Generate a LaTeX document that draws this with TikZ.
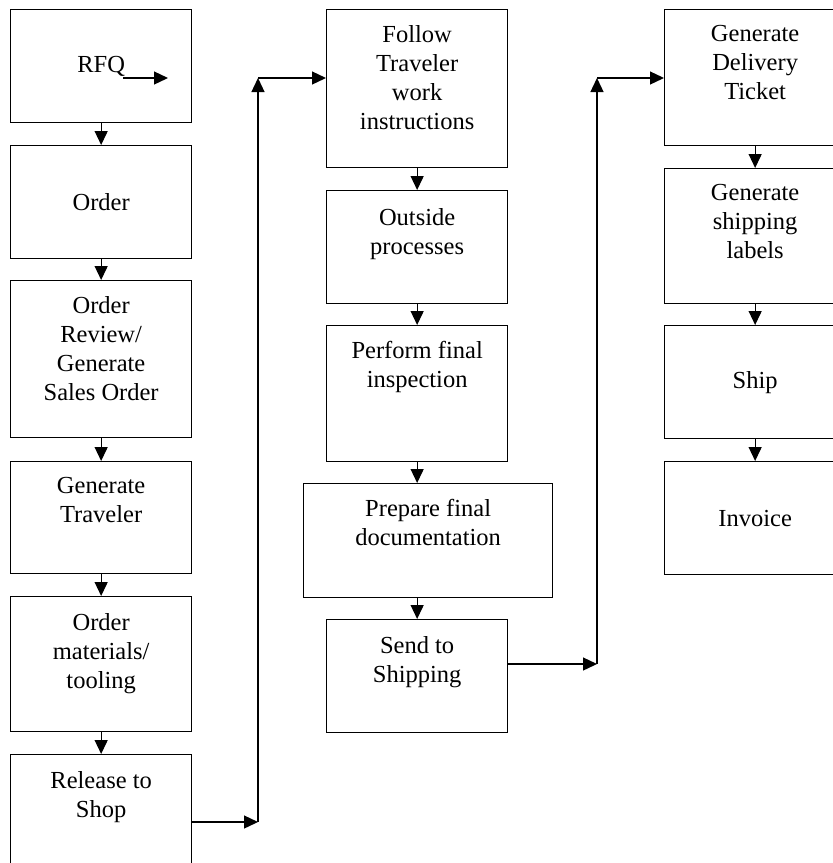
\documentclass[tikz,border=0pt]{standalone}
\usepackage{fontspec}
\setmainfont{Liberation Serif}
\usetikzlibrary{arrows.meta}
\begin{document}
\begin{tikzpicture}[x=1pt, y=-1pt,
box/.style={draw, line width=1.3pt, anchor=north west, minimum width=181pt, inner sep=0pt, font=\fontsize{24.5}{29}\selectfont},
txt/.style={anchor=north, align=center, inner sep=0pt, font=\fontsize{24.5}{29}\selectfont},
arr/.style={line width=1.3pt, -{Triangle[length=14pt, width=13pt]}}]
\useasboundingbox (0,0) rectangle (833,863);
\clip (0,0) rectangle (833,863);
\node[box, minimum height=113pt] (rfq) at (10,9){RFQ};
\node[box, minimum height=113pt] (order) at (10,145){Order};
\node[box, minimum height=157pt] (review) at (10,280){};
\node[txt] (review-t) at ([yshift=-16pt]review.north){Order\\Review/\\Generate\\Sales Order};
\node[box, minimum height=112pt] (traveler) at (10,461){};
\node[txt] (traveler-t) at ([yshift=-16pt]traveler.north){Generate\\Traveler};
\node[box, minimum height=135pt] (materials) at (10,596){};
\node[txt] (materials-t) at ([yshift=-17pt]materials.north){Order\\materials/\\tooling};
\node[box, minimum height=113pt] (release) at (10,754){};
\node[txt] (release-t) at ([yshift=-17pt]release.north){Release to\\Shop};
\node[box, minimum height=158pt] (follow) at (326,9){};
\node[txt] (follow-t) at ([yshift=-16pt]follow.north){Follow\\Traveler\\work\\instructions};
\node[box, minimum height=113pt] (outside) at (326,190){};
\node[txt] (outside-t) at ([yshift=-18pt]outside.north){Outside\\processes};
\node[box, minimum height=136pt] (inspect) at (326,325){};
\node[txt] (inspect-t) at ([yshift=-16pt]inspect.north){Perform final\\inspection};
\node[box, minimum height=114pt, minimum width=249pt] (docs) at (303,483){};
\node[txt] (docs-t) at ([yshift=-16pt]docs.north){Prepare final\\documentation};
\node[box, minimum height=113pt] (send) at (326,619){};
\node[txt] (send-t) at ([yshift=-17pt]send.north){Send to\\Shipping};
\node[box, minimum height=136pt] (ticket) at (664,9){};
\node[txt] (ticket-t) at ([yshift=-16pt]ticket.north){Generate\\Delivery\\Ticket};
\node[box, minimum height=135pt] (labels) at (664,168){};
\node[txt] (labels-t) at ([yshift=-16pt]labels.north){Generate\\shipping\\labels};
\node[box, minimum height=113pt] (ship) at (664,325){Ship};
\node[box, minimum height=113pt] (invoice) at (664,461){Invoice};
\coordinate (q0) at (123,78);
\coordinate (q1) at (168,78);
\coordinate (j0) at (258,822);
\coordinate (j1) at (258,78);
\coordinate (k0) at (597,664);
\coordinate (k1) at (597,78);
\draw[arr](q0) -- (q1);
\draw[arr](rfq) -- (order);
\draw[arr](order) -- (review);
\draw[arr](review) -- (traveler);
\draw[arr](traveler) -- (materials);
\draw[arr](materials) -- (release);
\draw[arr](release.east |- j0) -- (j0);
\draw[arr](j0) -- (j1);
\draw[arr](j1) -- (j1 -| follow.west);
\draw[arr](follow) -- (outside);
\draw[arr](outside) -- (inspect);
\draw[arr](inspect.south) -- (inspect.south |- docs.north);
\draw[arr](docs.south -| send.north) -- (send.north);
\draw[arr](send.east |- k0) -- (k0);
\draw[arr](k0) -- (k1);
\draw[arr](k1) -- (k1 -| ticket.west);
\draw[arr](ticket) -- (labels);
\draw[arr](labels) -- (ship);
\draw[arr](ship) -- (invoice);
\end{tikzpicture}
\end{document}
